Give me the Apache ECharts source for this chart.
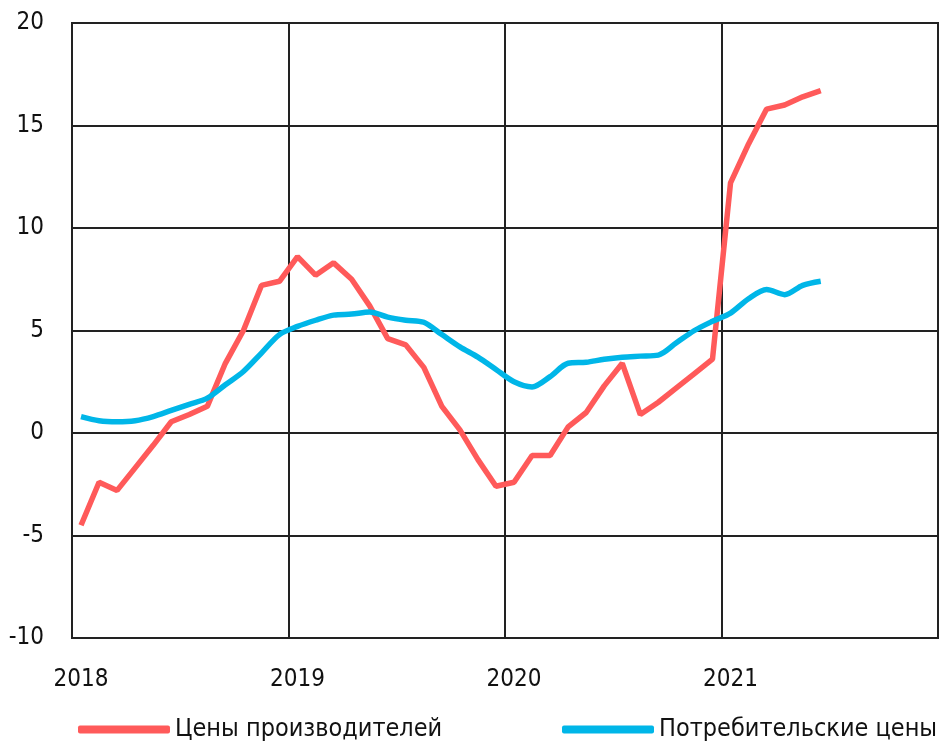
<!DOCTYPE html>
<html>
<head>
<meta charset="utf-8">
<script src="https://cdn.jsdelivr.net/npm/echarts@6/dist/echarts.min.js"></script>
<style>
  html, body { margin: 0; padding: 0; background: #fff; }
  #chart { width: 943px; height: 744px; }
</style>
</head>
<body>
<div id="chart"></div>
<script>
// years on the x axis, one category per month
const years = ['2018', '2019', '2020', '2021'];
const months = [];
years.forEach(y => { for (let m = 1; m <= 12; m++) months.push(y + '-' + m); });

const seriesNames = ['Цены производителей', 'Потребительские цены'];

// Jan 2018 .. Jun 2021
const producerPrices = [
  -4.5, -2.4, -2.8, -1.7, -0.6, 0.55, 0.9, 1.3, 3.4, 5.0, 7.2, 7.4,
  8.6, 7.7, 8.3, 7.5, 6.2, 4.6, 4.3, 3.2, 1.3, 0.15, -1.3, -2.6,
  -2.4, -1.1, -1.1, 0.3, 1.0, 2.3, 3.4, 0.9, 1.5, 2.2, 2.9, 3.6,
  12.2, 14.1, 15.8, 16.0, 16.4, 16.7
];
const consumerPrices = [
  0.8, 0.6, 0.55, 0.6, 0.8, 1.1, 1.4, 1.7, 2.35, 3.0, 3.9, 4.8,
  5.2, 5.5, 5.75, 5.8, 5.9, 5.65, 5.5, 5.4, 4.8, 4.2, 3.7, 3.1,
  2.5, 2.25, 2.75, 3.4, 3.45, 3.6, 3.7, 3.75, 3.8, 4.4, 5.0, 5.45,
  5.85, 6.55, 7.0, 6.75, 7.2, 7.4
];

const font = "'DejaVu Sans Condensed', 'Roboto', sans-serif";
const gridColor = '#222';
const textColor = '#111';

// one legend block per series so each sits where the original puts it
const legendBlock = (name, left) => ({
  data: [name], left: left, top: 712,
  itemWidth: 92, itemHeight: 8, icon: 'roundRect',
  textStyle: { fontFamily: font, fontSize: 25, color: textColor }
});

const chart = echarts.init(document.getElementById('chart'));
chart.setOption({
  animation: false,
  color: ['#FF5A5A', '#00B6E8'],
  grid: {
    left: 72, right: 5, top: 23, bottom: 106,
    show: true, borderColor: gridColor, borderWidth: 2
  },
  legend: [legendBlock(seriesNames[0], 73), legendBlock(seriesNames[1], 557)],
  xAxis: {
    type: 'category',
    data: months,
    boundaryGap: true,
    axisLine: { show: false },
    axisTick: { show: false },
    axisLabel: {
      interval: 11, margin: 30,
      fontFamily: font, fontSize: 24, color: textColor,
      formatter: v => v.split('-')[0]
    },
    splitLine: { show: true, interval: 11, lineStyle: { color: gridColor, width: 2 } }
  },
  yAxis: {
    type: 'value',
    min: -10, max: 20, interval: 5,
    axisLine: { show: false },
    axisTick: { show: false },
    axisLabel: { margin: 28, fontFamily: font, fontSize: 24, color: textColor },
    splitLine: { lineStyle: { color: gridColor, width: 2 } }
  },
  series: [
    {
      name: seriesNames[0], type: 'line', data: producerPrices,
      showSymbol: false, lineStyle: { width: 5.5 }
    },
    {
      name: seriesNames[1], type: 'line', data: consumerPrices,
      showSymbol: false, smooth: 0.3, lineStyle: { width: 5.5 }
    }
  ]
});
</script>
</body>
</html>
